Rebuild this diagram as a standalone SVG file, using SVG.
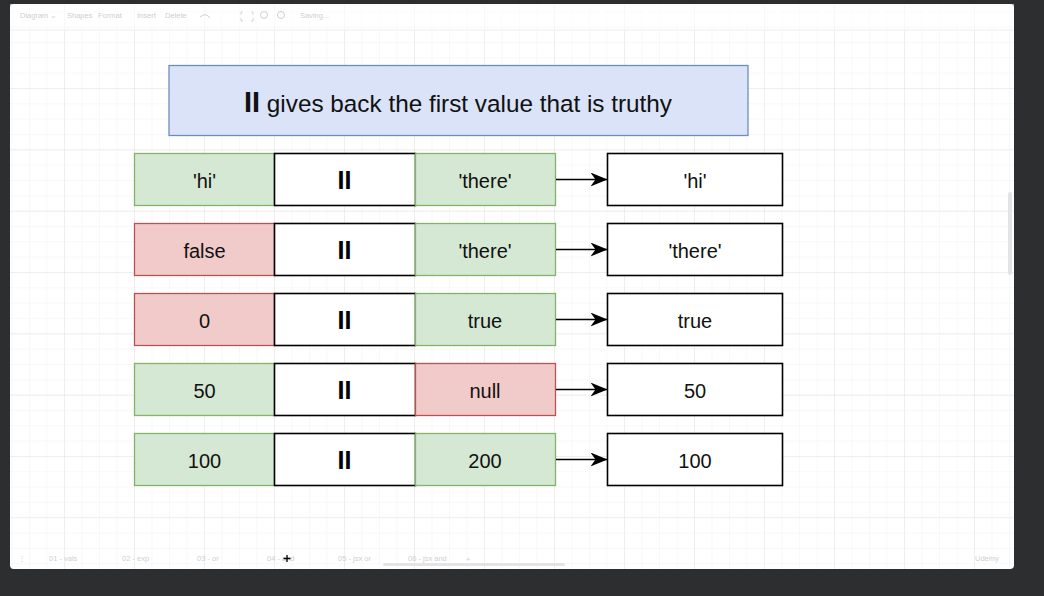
<svg xmlns="http://www.w3.org/2000/svg" width="1044" height="596" viewBox="0 0 1044 596">
  <style>
    .cell { stroke-width: 1.3; }
    .green { fill: #d5e8d4; stroke: #82b366; }
    .red { fill: #f1cbca; stroke: #b85450; }
    .white { fill: #ffffff; stroke: #000000; stroke-width: 1.6; }
    .t { font-family: "Liberation Sans", Arial, sans-serif; font-size: 20px; fill: #111; text-anchor: middle; }
    .op { font-family: "Liberation Sans", Arial, sans-serif; font-size: 25px; font-weight: bold; fill: #000; text-anchor: middle; }
    .ui { font-family: "Liberation Sans", Arial, sans-serif; font-size: 7.5px; fill: #cfcfcf; }
    .conn { stroke: #000; stroke-width: 1.6; fill: none; }
  </style>
  <defs>
    <pattern id="minor" patternUnits="userSpaceOnUse" x="64" y="88" width="17.5" height="15.33">
      <path d="M0 0 V15.33 M0 0 H17.5" stroke="#f1f1f1" stroke-width="1" fill="none"/>
    </pattern>
    <pattern id="major" patternUnits="userSpaceOnUse" x="64" y="88" width="70" height="61.33">
      <path d="M0 0 V61.33 M0 0 H70" stroke="#e4e4e4" stroke-width="1" fill="none"/>
    </pattern>
    <marker id="arrow" markerWidth="17" markerHeight="14" refX="16.5" refY="7" orient="auto" markerUnits="userSpaceOnUse">
      <path d="M0 0 L17 7 L0 14 L5 7 Z" fill="#000"/>
    </marker>
  </defs>

  <!-- window background -->
  <rect x="0" y="0" width="1044" height="596" fill="#2d2e30"/>
  <rect x="10" y="4" width="1004" height="565" rx="4" fill="#ffffff"/>
  <rect x="10" y="4" width="1004" height="565" fill="url(#minor)"/>
  <rect x="10" y="4" width="1004" height="565" fill="url(#major)"/>

  <!-- toolbar (faint) -->
  <g id="toolbar">
    <rect x="10" y="4" width="1004" height="26" fill="#ffffff" opacity="0.6"/>
    <line x1="10" y1="30" x2="1014" y2="30" stroke="#ececec"/>
    <text class="ui" x="20" y="18">Diagram ⌄</text>
    <text class="ui" x="67" y="18">Shapes</text>
    <text class="ui" x="98" y="18">Format</text>
    <text class="ui" x="137" y="18">Insert</text>
    <text class="ui" x="165" y="18" fill="#e6e6e6">Delete</text>
    <text class="ui" x="300" y="18">Saving...</text>
    <path d="M200 17 q6 -5 10 1" stroke="#cfcfcf" fill="none"/>
    <path d="M243 12 h-2 v3 M251 12 h2 v3 M243 21 h-2 v-3 M251 21 h2 v-3" stroke="#d6d6d6" fill="none"/>
    <circle cx="264" cy="15" r="3.5" stroke="#d0d0d0" fill="none"/>
    <circle cx="281" cy="15" r="3.5" stroke="#d0d0d0" fill="none"/>
  </g>

  <!-- bottom tabs (faint) -->
  <g id="tabs">
    <text class="ui" x="18" y="561">⋮</text>
    <text class="ui" x="49" y="561">01 - vals</text>
    <text class="ui" x="122" y="561">02 - exp</text>
    <text class="ui" x="197" y="561" fill="#b8b8b8">03 - or</text>
    <text class="ui" x="267" y="561">04 - and</text>
    <text class="ui" x="338" y="561">05 - jsx or</text>
    <text class="ui" x="408" y="561">06 - jsx and</text>
    <text class="ui" x="466" y="562" font-size="10">+</text>
    <rect x="383" y="563" width="182" height="3" rx="1.5" fill="#e4e4e4"/>
    <rect x="1008" y="192" width="4" height="83" rx="2" fill="#e4e4e4"/>
    <text class="ui" x="975" y="561" font-size="9" fill="#dcdcdc">Udemy</text>
    <path d="M287 555 v7 M283.5 558.5 h7" stroke="#000" stroke-width="1.3"/>
  </g>

  <!-- title -->
  <g id="title">
    <rect x="169" y="65.5" width="579" height="70" fill="#dae3f7" stroke="#6c8ebf" stroke-width="1.3"/>
    <text x="458" y="112" text-anchor="middle" font-family="'Liberation Sans', Arial, sans-serif" fill="#111"><tspan font-size="29" font-weight="bold">II</tspan><tspan font-size="24.3"> gives back the first value that is truthy</tspan></text>
  </g>

  <!-- row 1 -->
  <g id="row1-left"><rect class="cell green" x="134.5" y="153.5" width="140" height="52"/><text class="t" x="204.5" y="188">'hi'</text></g>
  <g id="row1-op"><rect class="white" x="274.5" y="153.5" width="141" height="52"/><text class="op" x="344.5" y="189">II</text></g>
  <g id="row1-right"><rect class="cell green" x="415.5" y="153.5" width="140" height="52"/><text class="t" x="485" y="188">'there'</text></g>
  <g id="row1-result"><rect class="white" x="607.5" y="153.5" width="175" height="52"/><text class="t" x="695" y="188">'hi'</text></g>

  <!-- row 2 -->
  <g id="row2-left"><rect class="cell red" x="134.5" y="223.5" width="140" height="52"/><text class="t" x="204.5" y="258">false</text></g>
  <g id="row2-op"><rect class="white" x="274.5" y="223.5" width="141" height="52"/><text class="op" x="344.5" y="259">II</text></g>
  <g id="row2-right"><rect class="cell green" x="415.5" y="223.5" width="140" height="52"/><text class="t" x="485" y="258">'there'</text></g>
  <g id="row2-result"><rect class="white" x="607.5" y="223.5" width="175" height="52"/><text class="t" x="695" y="258">'there'</text></g>

  <!-- row 3 -->
  <g id="row3-left"><rect class="cell red" x="134.5" y="293.5" width="140" height="52"/><text class="t" x="204.5" y="328">0</text></g>
  <g id="row3-op"><rect class="white" x="274.5" y="293.5" width="141" height="52"/><text class="op" x="344.5" y="329">II</text></g>
  <g id="row3-right"><rect class="cell green" x="415.5" y="293.5" width="140" height="52"/><text class="t" x="485" y="328">true</text></g>
  <g id="row3-result"><rect class="white" x="607.5" y="293.5" width="175" height="52"/><text class="t" x="695" y="328">true</text></g>

  <!-- row 4 -->
  <g id="row4-left"><rect class="cell green" x="134.5" y="363.5" width="140" height="52"/><text class="t" x="204.5" y="398">50</text></g>
  <g id="row4-op"><rect class="white" x="274.5" y="363.5" width="141" height="52"/><text class="op" x="344.5" y="399">II</text></g>
  <g id="row4-right"><rect class="cell red" x="415.5" y="363.5" width="140" height="52"/><text class="t" x="485" y="398">null</text></g>
  <g id="row4-result"><rect class="white" x="607.5" y="363.5" width="175" height="52"/><text class="t" x="695" y="398">50</text></g>

  <!-- row 5 -->
  <g id="row5-left"><rect class="cell green" x="134.5" y="433.5" width="140" height="52"/><text class="t" x="204.5" y="468">100</text></g>
  <g id="row5-op"><rect class="white" x="274.5" y="433.5" width="141" height="52"/><text class="op" x="344.5" y="469">II</text></g>
  <g id="row5-right"><rect class="cell green" x="415.5" y="433.5" width="140" height="52"/><text class="t" x="485" y="468">200</text></g>
  <g id="row5-result"><rect class="white" x="607.5" y="433.5" width="175" height="52"/><text class="t" x="695" y="468">100</text></g>

  <!-- connectors -->
  <g id="connectors">
    <line class="conn" x1="556" y1="179.5" x2="607" y2="179.5" marker-end="url(#arrow)"/>
    <line class="conn" x1="556" y1="249.5" x2="607" y2="249.5" marker-end="url(#arrow)"/>
    <line class="conn" x1="556" y1="319.5" x2="607" y2="319.5" marker-end="url(#arrow)"/>
    <line class="conn" x1="556" y1="389.5" x2="607" y2="389.5" marker-end="url(#arrow)"/>
    <line class="conn" x1="556" y1="459.5" x2="607" y2="459.5" marker-end="url(#arrow)"/>
  </g>
</svg>
